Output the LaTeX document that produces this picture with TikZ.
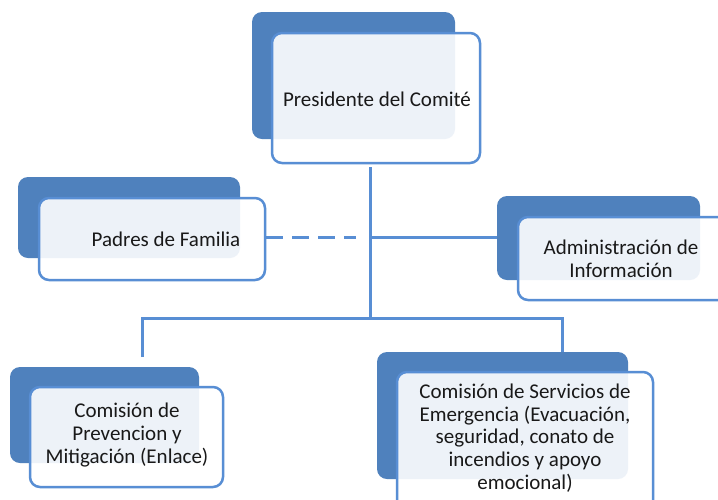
\documentclass[tikz,border=0pt]{standalone}
\usepackage{fontspec}
\setmainfont{Carlito}
\definecolor{boxblue}{RGB}{79,129,189}
\definecolor{lineblue}{RGB}{88,142,212}
\definecolor{inktext}{RGB}{25,25,25}
\begin{document}
\begin{tikzpicture}[x=1pt,y=-1pt,
  back box/.style={rectangle,rounded corners=10pt,fill=boxblue,inner sep=0pt},
  front box/.style={rectangle,rounded corners=10pt,draw=lineblue,line width=2.5pt,fill=white,fill opacity=0.9,inner sep=0pt},
  box text/.style={align=center,text=inktext,inner sep=0pt,font=\fontsize{21}{22.75}\selectfont},
  link/.style={draw=lineblue,line width=3pt},
  dashed link/.style={link,dash pattern=on 17pt off 9pt}]
  \clip (0,0) rectangle (718,499);
  \fill[white] (0,0) rectangle (718,499);

  \coordinate (presOut) at (370,167);
  \coordinate (hub) at (370,318);
  \coordinate (mid) at (370,237);
  \coordinate (prevIn) at (142,357);
  \coordinate (emerIn) at (562,357);

  \node[back box,minimum width=222pt,minimum height=81pt] at (129,217.5) (padresB) {};
  \node[back box,minimum width=203pt,minimum height=84pt] at (598.5,238) (adminB) {};

  \path[link] (presOut) -- (hub);
  \path[link] (prevIn) |- (hub) -| (emerIn);
  \path[link] (mid) -- (adminB.west |- mid);

  \node[back box,minimum width=203pt,minimum height=127pt] at (353.5,75.5) (presB) {};
  \node[back box,minimum width=189pt,minimum height=96pt] at (104.5,415) (prevB) {};
  \node[back box,minimum width=251pt,minimum height=127pt] at (502.5,415.5) (emerB) {};

  \node[front box,minimum width=208pt,minimum height=130pt] at (376,98) (pres) {};
  \node[front box,minimum width=226pt,minimum height=82pt] at (152,239) (padres) {};
  \node[front box,minimum width=222pt,minimum height=83pt] at (629,258.5) (admin) {};
  \node[front box,minimum width=193pt,minimum height=100pt] at (126.5,437) (prev) {};
  \node[front box,minimum width=256pt,minimum height=148pt] at (525,446) (emer) {};

  \path[dashed link] (padres.east |- mid) -- ([xshift=-14pt]mid);

  \node[box text] at (377,99) (presT) {Presidente del Comité};
  \node[box text] at (166,239) (padresT) {Padres de Familia};
  \node[box text] at (621,259) (adminT) {Administración de\\Información};
  \node[box text] at (127,435) (prevT) {Comisión de\\Prevencion y\\Mitigación (Enlace)};
  \node[box text] at (525,438) (emerT) {Comisión de Servicios de\\Emergencia (Evacuación,\\seguridad, conato de\\incendios y apoyo\\emocional)};
\end{tikzpicture}
\end{document}
